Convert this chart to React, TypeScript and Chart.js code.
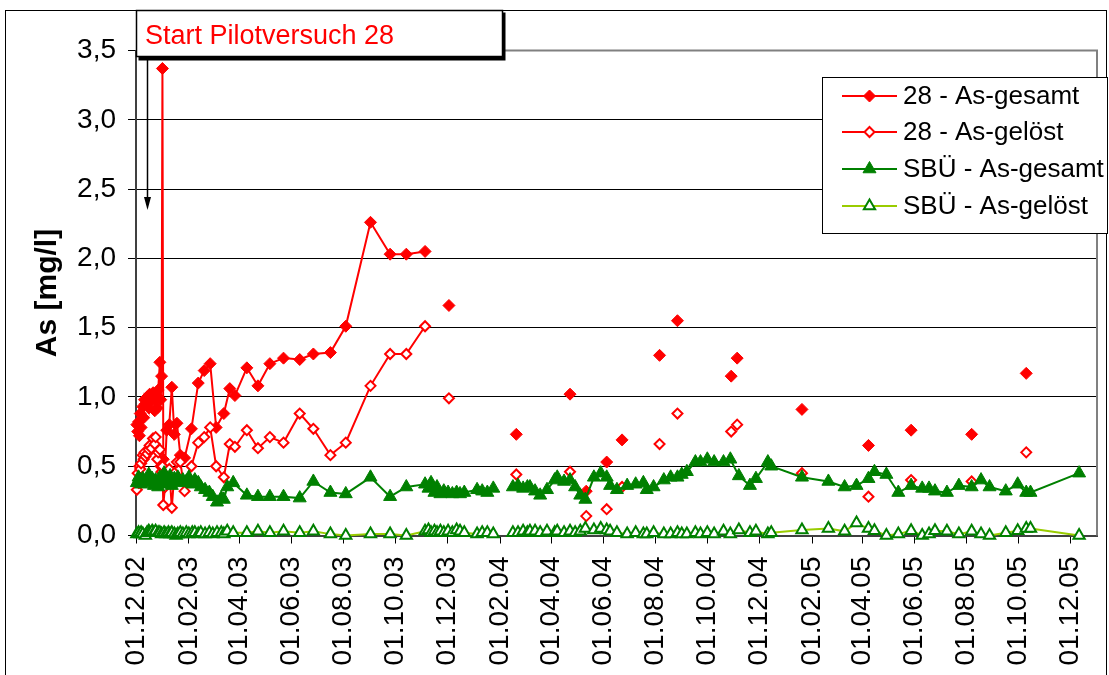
import React, { useEffect, useRef } from 'react';
import { Chart, registerables } from 'chart.js';

Chart.register(...registerables);

const FONT = "'Liberation Sans', Arial, Helvetica, sans-serif";

// x-axis tick labels (every 2 months) and axis end
const tickLabels = [
  '01.12.02', '01.02.03', '01.04.03', '01.06.03', '01.08.03', '01.10.03', '01.12.03',
  '01.02.04', '01.04.04', '01.06.04', '01.08.04', '01.10.04', '01.12.04',
  '01.02.05', '01.04.05', '01.06.05', '01.08.05', '01.10.05', '01.12.05',
];
const axisStart = '01.12.02';
const axisEnd = '01.01.06';

const seriesNames = ['28 - As-gesamt', '28 - As-gelöst', 'SBÜ - As-gesamt', 'SBÜ - As-gelöst'];

// sampling days (days since 01.12.02) for pilot plant 28; null value = no sample (gap)
const days28 = [
  1, 2, 3, 4, 5, 6, 8, 9, 10, 11,
  13, 15, 16, 18, 20, 22, 23, 25, 26, 28,
  29, 30, 31, 32, 34, 36, 39, 42, 45, 48,
  52, 57, 65, 73, 80, 87, 94, 103, 110, 116,
  130, 143, 157, 173, 192, 208, 228, 246, 275, 298,
  317, 339, 353, 367, 400, 446, 480, 509, 518, 528,
  540, 552, 561, 570, 590, 614, 625, 635, 665, 698,
  701, 705, 740, 781, 820, 859, 885, 909, 945, 980,
  1010, 1044,
];
const gesamt28 = [
  0.80, 0.75, 0.82, 0.72, 0.88, 0.78, 0.93, 0.85, 0.98, 0.95,
  1.00, 0.92, 1.02, 0.97, 1.03, 0.90, 1.01, 0.92, 1.05, 1.25,
  0.98, 1.15, 3.37, 0.55, 0.48, 0.76, 0.80, 1.07, 0.73, 0.81,
  0.58, 0.56, 0.77, 1.10, 1.19, 1.24, 0.78, 0.88, 1.06, 1.01,
  1.21, 1.08, 1.24, 1.28, 1.27, 1.31, 1.32, 1.51, 2.26, 2.03,
  2.03, 2.05, null, 1.66, null, 0.73, null, 1.02, null, 0.32,
  null, 0.53, null, 0.69, null, 1.30, null, 1.55, null, 1.15,
  null, 1.28, null, 0.91, null, 0.65, null, 0.76, null, 0.73,
  null, 1.17,
];
const geloest28 = [
  0.33, 0.45, 0.38, 0.50, 0.48, 0.52, 0.58, 0.55, 0.60, 0.57,
  0.59, 0.62, 0.65, 0.63, 0.70, 0.66, 0.71, 0.55, 0.60, 0.62,
  0.50, 0.46, 0.50, 0.22, 0.35, 0.40, 0.48, 0.20, 0.45, 0.53,
  0.53, 0.32, 0.50, 0.67, 0.71, 0.78, 0.50, 0.42, 0.66, 0.64,
  0.76, 0.63, 0.71, 0.67, 0.88, 0.77, 0.58, 0.67, 1.08, 1.31,
  1.31, 1.51, null, 0.99, null, 0.44, null, 0.46, null, 0.14,
  null, 0.19, null, 0.35, null, 0.66, null, 0.88, null, 0.75,
  null, 0.80, null, 0.45, null, 0.28, null, 0.40, null, 0.39,
  null, 0.60,
];

// sampling days (days since 01.12.02) for SBÜ
const daysSBU = [
  1, 3, 5, 6, 8, 11, 13, 15, 16, 19,
  21, 23, 26, 28, 30, 33, 35, 38, 40, 42,
  45, 47, 49, 52, 55, 59, 62, 66, 69, 73,
  76, 81, 86, 90, 95, 100, 103, 107, 114, 130,
  143, 157, 173, 192, 208, 228, 246, 275, 298, 317,
  339, 343, 346, 350, 353, 357, 361, 366, 371, 376,
  380, 385, 400, 406, 412, 419, 430, 442, 448, 454,
  459, 462, 468, 474, 482, 491, 494, 502, 509, 515,
  521, 527, 537, 545, 552, 556, 564, 576, 586, 595,
  599, 607, 619, 627, 635, 640, 646, 656, 662, 670,
  678, 689, 697, 707, 720, 727, 741, 745, 781, 812,
  831, 845, 859, 866, 880, 894, 909, 922, 930, 937,
  951, 965, 980, 991, 1001, 1020, 1034, 1044, 1049, 1106,
];
const gesamtSBU = [
  0.38, 0.42, 0.40, 0.37, 0.41, 0.39, 0.40, 0.44, 0.38, 0.41,
  0.36, 0.40, 0.35, 0.42, 0.37, 0.45, 0.40, 0.38, 0.43, 0.36,
  0.41, 0.39, 0.42, 0.38, 0.40, 0.39, 0.42, 0.37, 0.40, 0.38,
  0.35, 0.33, 0.31, 0.28, 0.24, 0.27, 0.26, 0.35, 0.38, 0.29,
  0.28, 0.28, 0.28, 0.27, 0.39, 0.31, 0.30, 0.42, 0.28, 0.35,
  0.37, 0.34, 0.38, 0.31, 0.35, 0.30, 0.32, 0.31, 0.30, 0.31,
  0.30, 0.31, 0.33, 0.32, 0.31, 0.34, null, 0.35, 0.36, 0.34,
  0.35, 0.35, 0.32, 0.29, 0.33, 0.40, 0.42, 0.39, 0.40, 0.35,
  0.29, 0.26, 0.42, 0.45, 0.42, 0.36, 0.33, 0.36, 0.37, 0.38,
  0.33, 0.35, 0.40, 0.42, 0.42, 0.44, 0.46, 0.53, 0.53, 0.55,
  0.53, 0.53, 0.55, 0.43, 0.36, 0.41, 0.53, 0.50, 0.42, 0.39,
  0.35, 0.36, 0.41, 0.46, 0.44, 0.31, 0.36, 0.34, 0.34, 0.32,
  0.31, 0.36, 0.35, 0.40, 0.35, 0.32, 0.37, 0.31, 0.31, 0.45,
];
const geloestSBU = [
  0.01, 0.02, 0.01, 0.02, 0.01, 0.00, 0.02, 0.03, 0.02, 0.03,
  0.02, 0.03, 0.02, 0.02, 0.01, 0.02, 0.01, 0.02, 0.01, 0.02,
  0.01, 0.00, 0.01, 0.02, 0.01, 0.02, 0.01, 0.02, 0.02, 0.01,
  0.02, 0.01, 0.02, 0.01, 0.02, 0.02, 0.01, 0.03, 0.02, 0.02,
  0.03, 0.02, 0.03, 0.02, 0.03, 0.01, 0.00, 0.01, 0.01, 0.00,
  0.03, 0.04, 0.02, 0.03, 0.02, 0.03, 0.02, 0.03, 0.02, 0.04,
  0.03, 0.02, 0.01, 0.02, 0.02, 0.01, null, 0.02, 0.02, 0.03,
  0.02, 0.03, 0.03, 0.02, 0.03, 0.02, 0.03, 0.02, 0.03, 0.02,
  0.03, 0.05, 0.04, 0.05, 0.04, 0.03, 0.02, 0.01, 0.02, 0.01,
  0.01, 0.02, 0.01, 0.01, 0.02, 0.01, 0.01, 0.02, 0.01, 0.02,
  0.01, 0.03, 0.01, 0.04, 0.02, 0.03, 0.01, 0.02, 0.04, 0.05,
  0.03, 0.09, 0.05, 0.035, 0.00, 0.01, 0.035, 0.00, 0.01, 0.035,
  0.03, 0.01, 0.03, 0.01, 0.00, 0.02, 0.035, 0.05, 0.05, 0.00,
];

const annotationText = 'Start Pilotversuch 28';
const yTitle = 'As [mg/l]';

function parseDate(s: string): number {
  const [d, m, y] = s.split('.').map(Number);
  return Date.UTC(2000 + y, m - 1, d);
}
function dayOf(s: string): number {
  return Math.round((parseDate(s) - parseDate(axisStart)) / 86400000);
}

const toPoints = (days: number[], vals: (number | null)[]) =>
  days.map((d, i) => ({ x: d, y: vals[i] }));

type MarkerKind = 'diamond' | 'triangle';
function drawMarker(
  ctx: CanvasRenderingContext2D, kind: MarkerKind, x: number, y: number, r: number,
  fill: string, stroke: string, lw: number,
) {
  ctx.beginPath();
  if (kind === 'diamond') {
    ctx.moveTo(x, y - r);
    ctx.lineTo(x + r, y);
    ctx.lineTo(x, y + r);
    ctx.lineTo(x - r, y);
  } else {
    ctx.moveTo(x, y - r);
    ctx.lineTo(x + 0.866 * r, y + 0.5 * r);
    ctx.lineTo(x - 0.866 * r, y + 0.5 * r);
  }
  ctx.closePath();
  ctx.fillStyle = fill;
  ctx.fill();
  ctx.lineWidth = lw;
  ctx.strokeStyle = stroke;
  ctx.stroke();
}

const legendStyles = [
  { line: '#FF0000', kind: 'diamond' as MarkerKind, r: 6, fill: '#FF0000', stroke: '#FF0000', lw: 1 },
  { line: '#FF0000', kind: 'diamond' as MarkerKind, r: 5, fill: '#FFFFFF', stroke: '#FF0000', lw: 2 },
  { line: '#008000', kind: 'triangle' as MarkerKind, r: 7.5, fill: '#008000', stroke: '#008000', lw: 1 },
  { line: '#99CC00', kind: 'triangle' as MarkerKind, r: 6.5, fill: '#FFFFFF', stroke: '#008000', lw: 2 },
];

const framePlugin = {
  id: 'frame',
  beforeDatasetsDraw(chart: any) {
    const { ctx, chartArea } = chart;
    const { left, right, top, bottom } = chartArea;
    ctx.save();
    ctx.strokeStyle = '#808080';
    ctx.lineWidth = 2;
    ctx.beginPath();
    ctx.moveTo(left, top);
    ctx.lineTo(right, top);
    ctx.lineTo(right, bottom);
    ctx.stroke();
    ctx.restore();
  },
  afterDraw(chart: any) {
    const ctx: CanvasRenderingContext2D = chart.ctx;
    ctx.save();
    // outer chart frame
    ctx.strokeStyle = '#000';
    ctx.lineWidth = 1;
    ctx.strokeRect(5.5, 10.5, 1101, 700);

    // legend
    const lx = 822.5, ly = 77.5, lw = 285, lh = 156;
    ctx.fillStyle = '#FFFFFF';
    ctx.fillRect(lx, ly, lw, lh);
    ctx.strokeStyle = '#000';
    ctx.lineWidth = 1;
    ctx.strokeRect(lx, ly, lw, lh);
    const rows = [96, 132, 169, 206];
    ctx.font = `26px ${FONT}`;
    ctx.textBaseline = 'middle';
    ctx.textAlign = 'left';
    chart.data.datasets.forEach((ds: any, i: number) => {
      const st = legendStyles[i];
      const y = rows[i];
      ctx.strokeStyle = st.line;
      ctx.lineWidth = 2;
      ctx.beginPath();
      ctx.moveTo(842, y);
      ctx.lineTo(897, y);
      ctx.stroke();
      drawMarker(ctx, st.kind, 869.5, y, st.r, st.fill, st.stroke, st.lw);
      ctx.fillStyle = '#000';
      ctx.fillText(ds.label, 903, y + 1);
    });

    // annotation box with shadow
    ctx.fillStyle = '#000';
    ctx.fillRect(138.5, 12.5, 367, 48);
    ctx.fillStyle = '#FFFFFF';
    ctx.fillRect(136, 10, 367, 47);
    ctx.strokeStyle = '#000';
    ctx.lineWidth = 1.5;
    ctx.strokeRect(136.5, 10.5, 366, 46);
    ctx.fillStyle = '#FF0000';
    ctx.font = `27px ${FONT}`;
    ctx.textBaseline = 'alphabetic';
    ctx.fillText(annotationText, 145, 43.5);

    // arrow
    ctx.strokeStyle = '#000';
    ctx.lineWidth = 1.5;
    ctx.beginPath();
    ctx.moveTo(147.5, 60);
    ctx.lineTo(147.5, 200);
    ctx.stroke();
    ctx.fillStyle = '#000';
    ctx.beginPath();
    ctx.moveTo(144, 197);
    ctx.lineTo(151, 197);
    ctx.lineTo(147.5, 210);
    ctx.closePath();
    ctx.fill();
    ctx.restore();
  },
};

export default function App() {
  const ref = useRef<HTMLCanvasElement | null>(null);

  useEffect(() => {
    if (!ref.current) return;
    Chart.defaults.font.family = FONT;
    const chart = new Chart(ref.current, {
      type: 'line',
      data: {
        datasets: [
          {
            label: seriesNames[0],
            data: toPoints(days28, gesamt28),
            borderColor: '#FF0000',
            backgroundColor: '#FF0000',
            borderWidth: 2,
            pointStyle: 'rectRot',
            pointRadius: 6,
            pointBorderWidth: 1,
            pointBackgroundColor: '#FF0000',
            pointBorderColor: '#FF0000',
            spanGaps: false,
            clip: false,
            order: 3,
          },
          {
            label: seriesNames[1],
            data: toPoints(days28, geloest28),
            borderColor: '#FF0000',
            backgroundColor: '#FFFFFF',
            borderWidth: 2,
            pointStyle: 'rectRot',
            pointRadius: 5,
            pointBorderWidth: 2,
            pointBackgroundColor: '#FFFFFF',
            pointBorderColor: '#FF0000',
            spanGaps: false,
            clip: false,
            order: 2,
          },
          {
            label: seriesNames[2],
            data: toPoints(daysSBU, gesamtSBU),
            borderColor: '#008000',
            backgroundColor: '#008000',
            borderWidth: 2,
            pointStyle: 'triangle',
            pointRadius: 7.5,
            pointBorderWidth: 1,
            pointBackgroundColor: '#008000',
            pointBorderColor: '#008000',
            spanGaps: false,
            clip: false,
            order: 1,
          },
          {
            label: seriesNames[3],
            data: toPoints(daysSBU, geloestSBU),
            borderColor: '#99CC00',
            backgroundColor: '#FFFFFF',
            borderWidth: 2,
            pointStyle: 'triangle',
            pointRadius: 6.5,
            pointBorderWidth: 2,
            pointBackgroundColor: '#FFFFFF',
            pointBorderColor: '#008000',
            spanGaps: false,
            clip: false,
            order: 0,
          },
        ] as any,
      },
      options: {
        animation: false,
        responsive: false,
        devicePixelRatio: 1,
        events: [],
        layout: { padding: { top: 50.5, right: 12, left: 0, bottom: 0 } },
        plugins: {
          legend: { display: false },
          tooltip: { enabled: false },
          title: { display: false },
        },
        elements: { line: { tension: 0 } },
        scales: {
          x: {
            type: 'linear',
            min: dayOf(axisStart),
            max: dayOf(axisEnd),
            afterBuildTicks: (scale: any) => {
              scale.ticks = tickLabels.map((l) => ({ value: dayOf(l) }));
            },
            afterFit: (scale: any) => {
              scale.height = 675 - 535.5;
              scale.paddingLeft = 0;
              scale.paddingRight = 0;
            },
            ticks: {
              autoSkip: false,
              minRotation: 90,
              maxRotation: 90,
              padding: 13,
              color: '#000',
              font: { size: 28, family: FONT },
              callback: (_v: any, i: number) => tickLabels[i],
            },
            grid: { drawOnChartArea: false, drawTicks: true, tickLength: 8, color: '#000' },
            border: { color: '#404040', width: 2 },
          },
          y: {
            min: 0,
            max: 3.5,
            afterFit: (scale: any) => {
              scale.width = 136;
              scale.paddingTop = 0;
              scale.paddingBottom = 0;
            },
            ticks: {
              stepSize: 0.5,
              padding: 12,
              color: '#000',
              font: { size: 28, family: FONT },
              callback: (v: any) => Number(v).toFixed(1).replace('.', ','),
            },
            grid: { color: '#000', lineWidth: 1, tickLength: 8, drawTicks: true },
            border: { color: '#404040', width: 2 },
            title: {
              display: true,
              text: yTitle,
              color: '#000',
              font: { size: 30, weight: 'bold', family: FONT },
              padding: { top: 30, bottom: 0 },
            },
          },
        },
      } as any,
      plugins: [framePlugin],
    });
    return () => chart.destroy();
  }, []);

  return (
    <div style={{ position: 'fixed', left: 0, top: 0, width: 1109, height: 675, background: '#fff' }}>
      <canvas ref={ref} width={1109} height={675} style={{ width: 1109, height: 675, display: 'block' }} />
    </div>
  );
}
